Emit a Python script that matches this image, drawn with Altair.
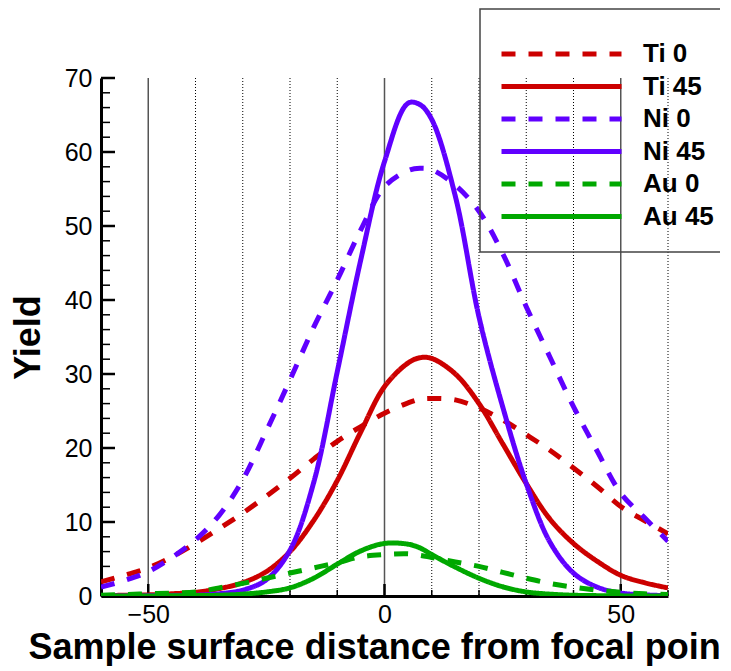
import altair as alt
import pandas as pd

# ---- data ----
x_vals = [-60, -55, -50, -45, -40, -35, -30, -25, -20, -15, -10, -5, 0, 5, 7.5,
          10, 15, 20, 25, 30, 35, 40, 45, 50, 55, 60]

ti_0 = [1.9, 2.8, 3.8, 5.3, 7.1, 9.1, 11.2, 13.5, 15.9, 18.5, 20.9, 22.9, 24.7, 26.1, 26.6,
        26.7, 26.5, 25.4, 23.8, 21.8, 19.7, 17.3, 14.8, 12.1, 10.2, 8.4]
ti_45 = [0.05, 0.1, 0.15, 0.3, 0.5, 1.0, 1.8, 3.3, 6.0, 10.2, 15.6, 22.2, 28.3, 31.5, 32.2,
         32.1, 30.0, 26.0, 20.6, 15.2, 10.4, 7.1, 4.7, 2.8, 1.8, 1.1]
ni_0 = [1.2, 2.1, 3.3, 5.2, 7.6, 10.9, 15.7, 22.3, 29.2, 36.3, 42.7, 49.5, 55.3, 57.5, 57.8,
        57.6, 55.5, 52.0, 46.3, 39.1, 32.3, 25.6, 19.6, 13.9, 10.6, 7.4]
ni_45 = [0, 0, 0.02, 0.05, 0.1, 0.3, 0.8, 2.2, 6.2, 15.3, 30.3, 45.5, 58.7, 66.6, 66.4,
         64.4, 54.0, 37.7, 25.6, 15.2, 7.3, 3.1, 1.2, 0.4, 0.15, 0.05]
au_0 = [0.1, 0.2, 0.3, 0.4, 0.55, 1.1, 1.7, 2.4, 3.1, 3.8, 4.5, 5.3, 5.6, 5.7, 5.5,
        5.2, 4.6, 4.0, 3.2, 2.4, 1.7, 1.2, 0.8, 0.5, 0.3, 0.2]
au_45 = [0, 0, 0, 0.02, 0.05, 0.1, 0.25, 0.55, 1.1, 2.4, 4.3, 6.1, 7.1, 7.0, 6.5,
         5.6, 3.9, 2.4, 1.25, 0.55, 0.25, 0.1, 0.05, 0.02, 0, 0]

series_names = ["Ti 0", "Ti 45", "Ni 0", "Ni 45", "Au 0", "Au 45"]
series_values = [ti_0, ti_45, ni_0, ni_45, au_0, au_45]
series_colors = ["#CC0000", "#CC0000", "#6000FF", "#6000FF", "#00A800", "#00A800"]
series_dash = [[14, 13], [1, 0], [14, 13], [1, 0], [14, 13], [1, 0]]

x_label_values = [-50, 0, 50]
x_grid_solid = [-50, 0, 50]
x_grid_dotted = [-40, -30, -20, -10, 10, 20, 30, 40, 60]
x_minor_ticks = [-40, -30, -20, -10, 10, 20, 30, 40, 60]
y_major_ticks = [0, 10, 20, 30, 40, 50, 60, 70]
y_minor_ticks = [2, 4, 6, 8, 12, 14, 16, 18, 22, 24, 26, 28, 32, 34, 36, 38,
                 42, 44, 46, 48, 52, 54, 56, 58, 62, 64, 66, 68]

rows = []
for name, vals in zip(series_names, series_values):
    for xv, yv in zip(x_vals, vals):
        rows.append({"x": xv, "y": yv, "series": name})
df = pd.DataFrame(rows)

W, H = 567, 518

xscale = alt.Scale(domain=[-60, 60], nice=False, zero=False)
yscale = alt.Scale(domain=[0, 70], nice=False, zero=False)

xaxis = alt.Axis(
    values=x_label_values, ticks=False, grid=False,
    domainColor="black", domainWidth=3,
    labelFont="Liberation Sans", labelFontSize=25, labelColor="black", labelPadding=6,
    title="Sample surface distance from focal poin",
    titleFont="Liberation Sans", titleFontSize=36, titleFontWeight="bold", titleColor="black",
    titleX=-73, titleY=62, titleAlign="left", titleBaseline="alphabetic",
)
yaxis = alt.Axis(
    values=y_major_ticks, ticks=False, grid=False,
    domainColor="black", domainWidth=3,
    labelFont="Liberation Sans", labelFontSize=25, labelColor="black", labelPadding=9,
    title="Yield",
    titleFont="Liberation Sans", titleFontSize=36, titleFontWeight="bold", titleColor="black",
    titleX=-73, titleY=H / 2, titleAngle=270, titleAlign="center", titleBaseline="middle",
)

X = lambda f: alt.X(f, scale=xscale, axis=xaxis)
Y = lambda f: alt.Y(f, scale=yscale, axis=yaxis)

grid_solid = alt.Chart(pd.DataFrame({"gx": x_grid_solid})).mark_rule(
    color="#555555", strokeWidth=1.5
).encode(x=X("gx:Q"))

grid_dotted = alt.Chart(pd.DataFrame({"gx": x_grid_dotted})).mark_rule(
    color="black", strokeWidth=1, strokeDash=[1, 2]
).encode(x=X("gx:Q"))

y_major = alt.Chart(pd.DataFrame({"ty": y_major_ticks})).mark_rule(
    color="black", strokeWidth=2.5
).encode(y=Y("ty:Q"), x=alt.value(0), x2=alt.value(14))

y_minor = alt.Chart(pd.DataFrame({"ty": y_minor_ticks})).mark_rule(
    color="black", strokeWidth=1.5
).encode(y=Y("ty:Q"), x=alt.value(0), x2=alt.value(9))

x_major = alt.Chart(pd.DataFrame({"tx": x_label_values})).mark_rule(
    color="black", strokeWidth=2.5
).encode(x=X("tx:Q"), y=alt.value(H), y2=alt.value(H - 12))

x_minor = alt.Chart(pd.DataFrame({"tx": x_minor_ticks})).mark_rule(
    color="black", strokeWidth=1.5
).encode(x=X("tx:Q"), y=alt.value(H), y2=alt.value(H - 6))

legend = alt.Legend(
    orient="none", legendX=379, legendY=-69,
    title=" ", titleFontSize=10, titlePadding=0,
    padding=19, strokeColor="#444",
    symbolType="stroke", symbolSize=14400, symbolStrokeWidth=5,
    labelFont="Liberation Sans", labelFontWeight="bold", labelFontSize=26,
    labelColor="black", labelOffset=19, clipHeight=32, rowPadding=0.5,
)

lines = alt.Chart(df).mark_line(
    strokeWidth=5, strokeJoin="round",
    interpolate="catmull-rom", clip=True
).encode(
    x=X("x:Q"),
    y=Y("y:Q"),
    color=alt.Color("series:N", scale=alt.Scale(domain=series_names, range=series_colors),
                    legend=legend),
    strokeDash=alt.StrokeDash("series:N", scale=alt.Scale(domain=series_names, range=series_dash),
                              legend=legend),
)

chart = alt.layer(grid_solid, grid_dotted, y_major, y_minor, x_major, x_minor, lines).properties(
    width=W, height=H,
    autosize=alt.AutoSizeParams(type="none"),
    padding={"left": 93, "top": 70, "right": 52, "bottom": 70},
).configure(font="Liberation Sans").configure_view(stroke=None).configure_legend(strokeWidth=1.5)

chart.save("out.html", embed_options={"renderer": "svg", "actions": False})
